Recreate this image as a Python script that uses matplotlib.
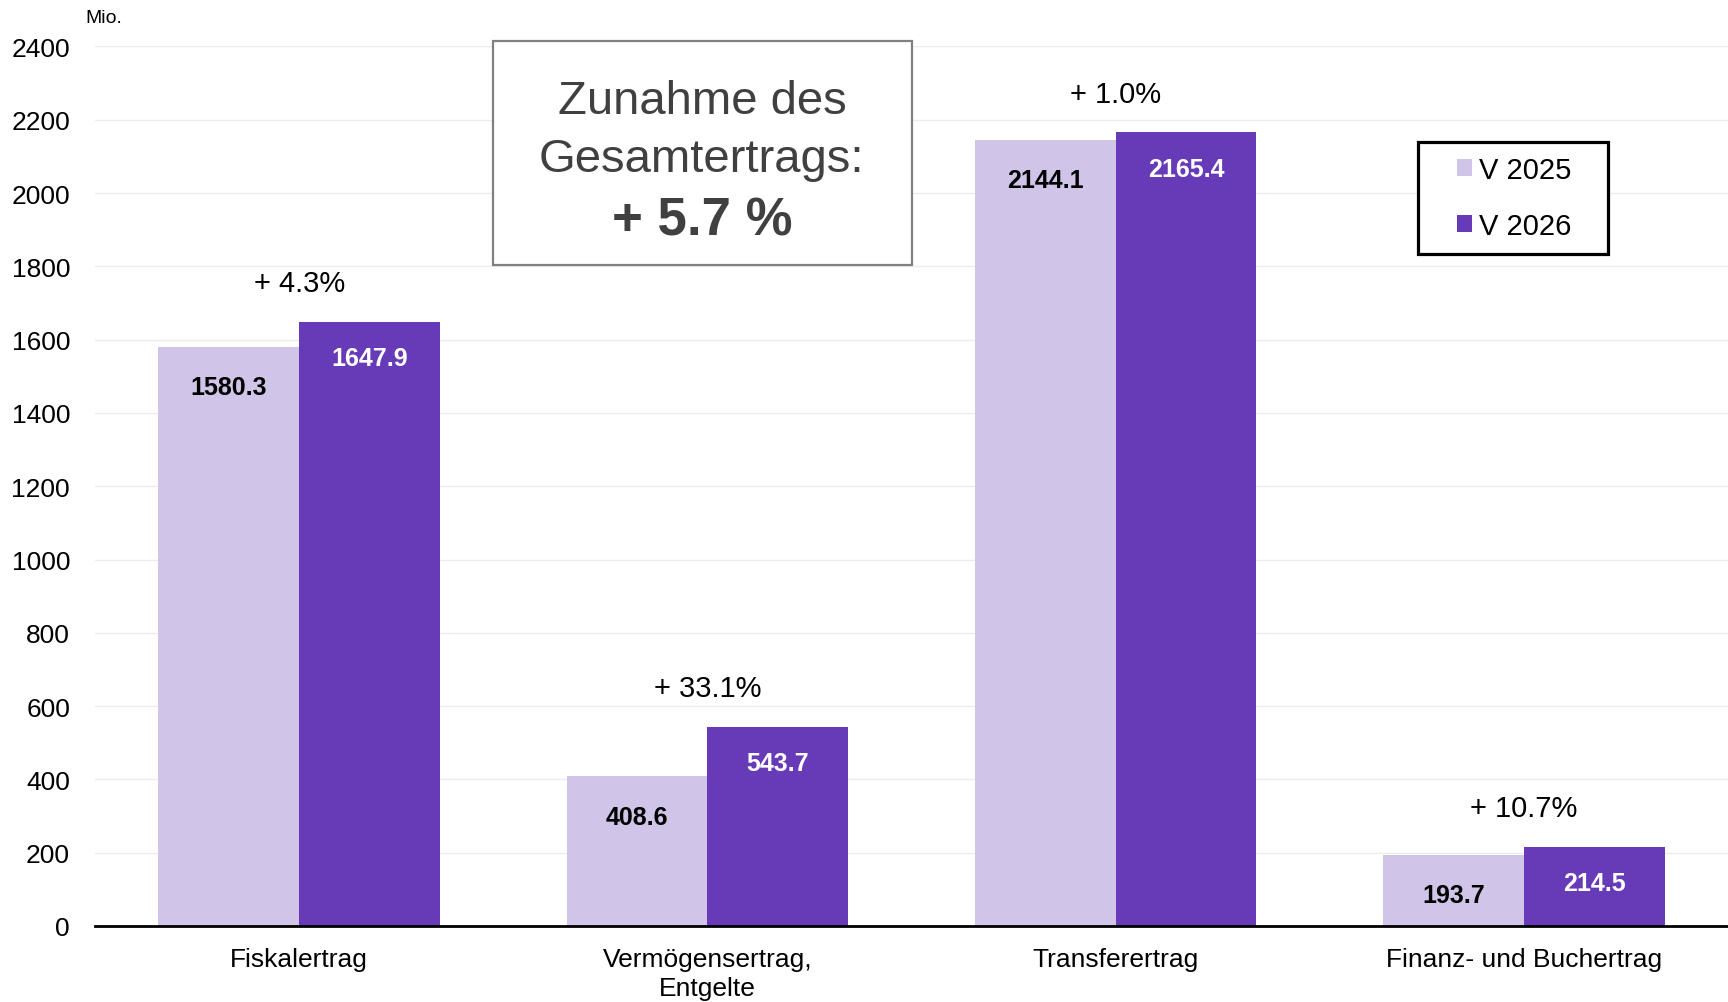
import numpy as np
import matplotlib
matplotlib.use("Agg")
import matplotlib.pyplot as plt
import matplotlib.patches as patches

plt.rcParams['font.family'] = ['Liberation Sans', 'DejaVu Sans']

categories = ["Fiskalertrag", "Vermögensertrag,\nEntgelte", "Transferertrag", "Finanz- und Buchertrag"]
v2025 = [1580.3, 408.6, 2144.1, 193.7]
v2026 = [1647.9, 543.7, 2165.4, 214.5]
series_names = ["V 2025", "V 2026"]
yticks = [0, 200, 400, 600, 800, 1000, 1200, 1400, 1600, 1800, 2000, 2200, 2400]

light = "#D1C4E9"
dark = "#673AB7"

fig = plt.figure(figsize=(17.28, 10.03), dpi=100)
ax = fig.add_axes([0.055, 0.0758, 0.945, 0.8769])

x = np.arange(len(categories))
w = 0.345
b1 = ax.bar(x - w / 2, v2025, w, color=light, label=series_names[0])
b2 = ax.bar(x + w / 2, v2026, w, color=dark, label=series_names[1])

ax.set_xlim(-0.5, len(categories) - 0.5)
ax.set_ylim(0, 2400)
ax.set_yticks(yticks)
ax.set_xticks(x)
ax.set_xticklabels(categories, fontsize=19, linespacing=1.25)
ax.tick_params(axis='y', length=0, pad=18, labelsize=19)
ax.tick_params(axis='x', length=0, pad=15)
ax.grid(axis='y', color='#ececec', linewidth=1)
ax.set_axisbelow(True)
for s in ['top', 'right', 'left']:
    ax.spines[s].set_visible(False)
ax.spines['bottom'].set_linewidth(2)
ax.spines['bottom'].set_color('black')

# value labels inside bars
for xi, v in zip(x - w / 2, v2025):
    ax.annotate(f"{v:.1f}", (xi, v), xytext=(0, -29), textcoords='offset points',
                ha='center', va='center', fontsize=18, fontweight='bold', color='black')
for xi, v in zip(x + w / 2, v2026):
    ax.annotate(f"{v:.1f}", (xi, v), xytext=(0, -26), textcoords='offset points',
                ha='center', va='center', fontsize=18, fontweight='bold', color='white')

# growth labels
for xi, a, b in zip(x, v2025, v2026):
    pct = (b / a - 1) * 100
    ax.annotate(f"+ {pct:.1f}%", (xi, max(a, b)), xytext=(0, 28), textcoords='offset points',
                ha='center', va='center', fontsize=21, color='black')

total = (sum(v2026) / sum(v2025) - 1) * 100

# summary box
fig.patches.append(patches.Rectangle((0.2851, 0.7352), 0.2424, 0.2230, transform=fig.transFigure,
                                     facecolor='white', edgecolor='#808080', linewidth=1.6, zorder=5))
fig.text(0.4062, 0.8985, "Zunahme des", ha='center', va='center', fontsize=34, color='#404040', zorder=6)
fig.text(0.4062, 0.8400, "Gesamtertrags:", ha='center', va='center', fontsize=34, color='#404040', zorder=6)
fig.text(0.4062, 0.7796, f"+ {total:.1f} %", ha='center', va='center', fontsize=38,
         fontweight='bold', color='#404040', zorder=6)

fig.text(85 / 1728, 1 - 18.5 / 1003, "Mio.", ha='left', va='center', fontsize=14)

# legend with its own frame
fig.patches.append(patches.Rectangle((1418 / 1728, 1 - 254.6 / 1003), 190 / 1728, 111.6 / 1003,
                                     transform=fig.transFigure, facecolor='white',
                                     edgecolor='black', linewidth=2.3, zorder=5))
leg = fig.legend(handles=[b1, b2], labels=series_names, loc='center',
                 bbox_to_anchor=(1514 / 1728, 1 - 198.8 / 1003),
                 bbox_transform=fig.transFigure, fontsize=21, frameon=False,
                 handlelength=0.52, handleheight=0.52, handletextpad=0.25, labelspacing=0.94,
                 borderpad=0, borderaxespad=0)
leg.set_zorder(6)

fig.savefig("out.png", dpi=100)
